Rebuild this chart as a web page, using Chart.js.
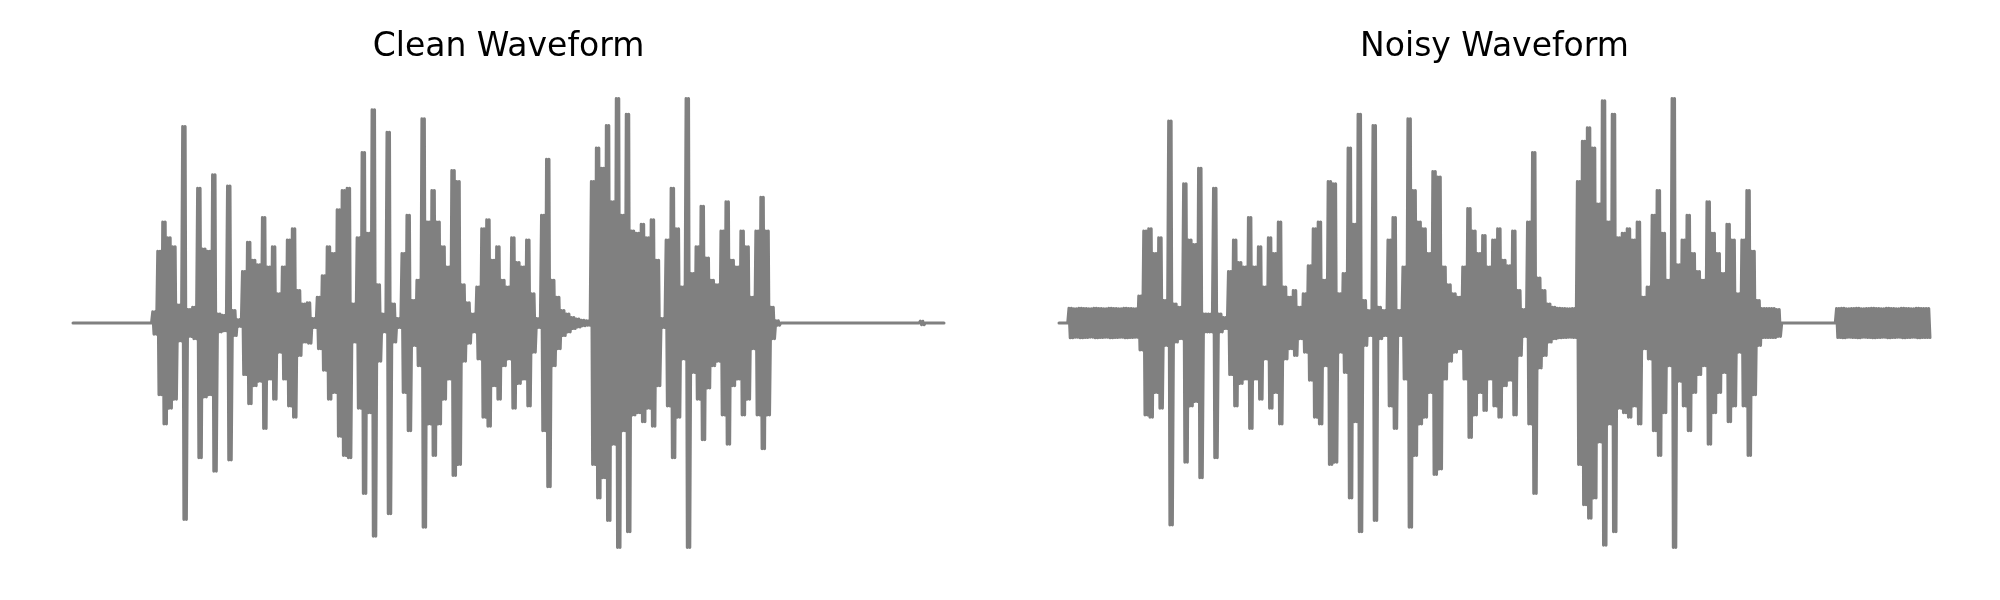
<!DOCTYPE html>
<html>
<head>
<meta charset="utf-8">
<script src="https://cdn.jsdelivr.net/npm/chart.js@4.4.1/dist/chart.umd.min.js"></script>
<style>
  body { margin: 0; background: #fff; width: 2000px; height: 600px; overflow: hidden; position: relative; }
  .panel { position: absolute; top: 0; width: 881px; height: 600px; }
</style>
</head>
<body>
<div class="panel" style="left:68px"><canvas id="cleanChart" width="881" height="600"></canvas></div>
<div class="panel" style="left:1054px"><canvas id="noisyChart" width="881" height="600"></canvas></div>
<script>
// Envelope peaks (normalised amplitude), one value per column
const cleanPeaks = [
  0, 0, 0, 0, 0, 0, 0, 0, 0, 0, 0, 0, 0, 0, 0, 0,
  0.05, 0.32, 0.45, 0.38, 0.34, 0.08, 0.875, 0.06, 0.07, 0.60,
  0.33, 0.32, 0.66, 0.04, 0.035, 0.61, 0.056, 0.015, 0.23, 0.36,
  0.28, 0.26, 0.47, 0.25, 0.34, 0.13, 0.25, 0.37, 0.42, 0.145,
  0.085, 0.09, 0.02, 0.115, 0.21, 0.34, 0.31, 0.505, 0.59, 0.60,
  0.085, 0.38, 0.76, 0.40, 0.95, 0.17, 0.04, 0.85, 0.085, 0.02,
  0.31, 0.48, 0.10, 0.19, 0.91, 0.45, 0.59, 0.45, 0.34, 0.25,
  0.68, 0.63, 0.17, 0.09, 0.04, 0.16, 0.42, 0.46, 0.28, 0.34,
  0.19, 0.16, 0.38, 0.27, 0.25, 0.37, 0.13, 0.02, 0.48, 0.73,
  0.19, 0.115, 0.056, 0.04, 0.025, 0.018, 0.012, 0.01, 0.63, 0.78,
  0.69, 0.88, 0.54, 1.0, 0.48, 0.93, 0.41, 0.40, 0.44, 0.38,
  0.46, 0.28, 0.02, 0.37, 0.60, 0.42, 0.16, 1.0, 0.22, 0.34,
  0.52, 0.29, 0.19, 0.17, 0.41, 0.54, 0.28, 0.25, 0.41, 0.34,
  0.115, 0.41, 0.56, 0.41, 0.07, 0.01,
  0, 0, 0, 0, 0, 0, 0, 0, 0, 0, 0, 0, 0, 0,
  0, 0, 0, 0, 0, 0, 0, 0, 0, 0, 0, 0, 0, 0,
  0.008, 0, 0, 0, 0
];

const noisyPeaks = [
  0, 0,
  0.066, 0.064, 0.066, 0.065, 0.063, 0.066, 0.065, 0.064, 0.066, 0.065, 0.064, 0.066, 0.065, 0.064,
  0.12, 0.41, 0.42, 0.31, 0.38, 0.10, 0.90, 0.085, 0.07, 0.62,
  0.37, 0.35, 0.69, 0.04, 0.04, 0.60, 0.04, 0.025, 0.23, 0.37,
  0.27, 0.25, 0.47, 0.25, 0.34, 0.16, 0.38, 0.31, 0.45, 0.16,
  0.115, 0.145, 0.07, 0.13, 0.255, 0.42, 0.45, 0.19, 0.63, 0.62,
  0.13, 0.22, 0.78, 0.44, 0.93, 0.10, 0.056, 0.88, 0.07, 0.056,
  0.37, 0.47, 0.056, 0.25, 0.91, 0.59, 0.45, 0.42, 0.31, 0.675,
  0.65, 0.25, 0.17, 0.13, 0.115, 0.25, 0.51, 0.41, 0.31, 0.39,
  0.25, 0.37, 0.42, 0.28, 0.255, 0.41, 0.145, 0.06, 0.45, 0.76,
  0.20, 0.145, 0.085, 0.07, 0.066, 0.065, 0.064, 0.065, 0.63, 0.81,
  0.87, 0.78, 0.53, 0.99, 0.45, 0.93, 0.38, 0.40, 0.42, 0.37,
  0.45, 0.115, 0.16, 0.48, 0.59, 0.40, 0.19, 1.0, 0.26, 0.37,
  0.48, 0.31, 0.23, 0.19, 0.54, 0.40, 0.31, 0.22, 0.44, 0.37,
  0.13, 0.37, 0.59, 0.32, 0.10, 0.065, 0.065, 0.065, 0.06,
  0, 0, 0, 0, 0, 0, 0, 0, 0, 0, 0,
  0.065, 0.066, 0.064, 0.065, 0.066, 0.064, 0.065, 0.066, 0.065, 0.064,
  0.066, 0.065, 0.064, 0.066, 0.065, 0.064, 0.066, 0.065, 0.065
];

const chartTitles = ['Clean Waveform', 'Noisy Waveform'];

// each column swings up and down between its peaks a few times, like the raw signal
function toWave(peaks) {
  const pts = [];
  let sign = 1;
  peaks.forEach((a, i) => {
    [-0.375, -0.125, 0.125, 0.375].forEach(dx => {
      pts.push({ x: i + dx, y: sign * a });
      sign = -sign;
    });
  });
  return pts;
}

function drawWaveform(canvasId, peaks, title) {
  const ctx = document.getElementById(canvasId).getContext('2d');
  return new Chart(ctx, {
    type: 'line',
    data: {
      datasets: [{
        data: toWave(peaks),
        borderColor: '#808080',
        borderWidth: 3,
        borderCapStyle: 'round',
        borderJoinStyle: 'round',
        pointRadius: 0,
        tension: 0,
        fill: false,
        clip: false
      }]
    },
    options: {
      responsive: false,
      animation: false,
      events: [],
      layout: { padding: { left: 5, right: 5, top: 0, bottom: 29 } },
      plugins: {
        legend: { display: false },
        tooltip: { enabled: false },
        title: {
          display: true,
          text: title,
          color: '#000',
          font: { family: "'DejaVu Sans'", size: 33, weight: 'normal' },
          padding: { top: 27.4, bottom: 8 }
        }
      },
      scales: {
        x: { type: 'linear', display: false, min: -0.375, max: peaks.length - 1 + 0.375 },
        y: { display: false, min: -1.105, max: 1.105 }
      }
    }
  });
}

drawWaveform('cleanChart', cleanPeaks, chartTitles[0]);
drawWaveform('noisyChart', noisyPeaks, chartTitles[1]);
</script>
</body>
</html>
